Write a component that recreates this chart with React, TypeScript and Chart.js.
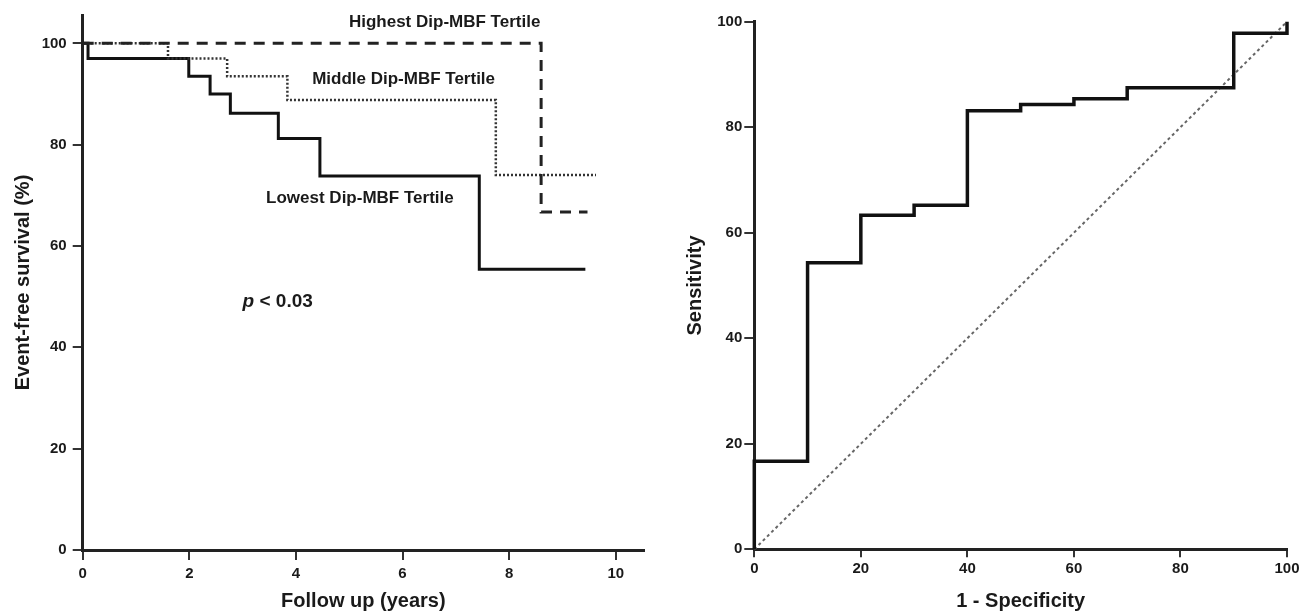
import React, { useEffect, useRef } from 'react';
import { Chart, registerables } from 'chart.js';

Chart.register(...registerables);

// ---- Kaplan-Meier data (years, % event-free) ----
const lowestYears = [0, 0.1, 1.99, 2.39, 2.77, 3.67, 4.45, 7.44, 9.43];
const lowestSurvival = [100, 97, 93.5, 90, 86.2, 81.2, 73.8, 55.4, 55.4];
const middleYears = [0, 1.6, 2.71, 3.84, 7.75, 9.63];
const middleSurvival = [100, 97, 93.5, 88.8, 74, 74];
const highestYears = [0, 8.6, 9.47];
const highestSurvival = [100, 66.7, 66.7];
const followTicks = [0, 2, 4, 6, 8, 10];
const survivalTicks = [0, 20, 40, 60, 80, 100];

// ---- ROC data (1 - specificity, sensitivity) ----
const rocFpr = [0, 10, 20, 30, 40, 50, 60, 70, 90, 100, 100];
const rocSens = [0, 16.7, 54.3, 63.3, 65.2, 83.1, 84.3, 85.4, 87.5, 97.8, 100];
const refFpr = [0, 100];
const refSens = [0, 100];
const rocTicks = [0, 20, 40, 60, 80, 100];

const FONT = '"Liberation Sans", Arial, Helvetica, sans-serif';
const INK = '#1a1a1a';

const toPoints = (xs: number[], ys: number[]) => xs.map((x, i) => ({ x, y: ys[i] }));

const notesPlugin = {
  id: 'notes',
  afterDatasetsDraw(chart: any, _args: any, opts: any) {
    const items = (opts && opts.items) || [];
    const { ctx } = chart;
    const xs = chart.scales.x;
    const ys = chart.scales.y;
    ctx.save();
    ctx.fillStyle = INK;
    ctx.textBaseline = 'middle';
    for (const it of items) {
      let px = xs.getPixelForValue(it.x);
      const py = ys.getPixelForValue(it.y);
      if (it.italic) {
        ctx.font = `italic bold ${it.size}px ${FONT}`;
        ctx.textAlign = 'left';
        ctx.fillText(it.italic, px, py);
        px += ctx.measureText(it.italic).width;
      }
      ctx.font = `bold ${it.size}px ${FONT}`;
      ctx.textAlign = it.align;
      ctx.fillText(it.text, px, py);
    }
    ctx.restore();
  },
};

function axis(opts: {
  min: number;
  max: number;
  ticks: number[];
  title: string;
  fixed: number;
  horizontal: boolean;
  tickLength: number;
  labelPad: number;
  titlePad: any;
}) {
  return {
    type: 'linear',
    min: opts.min,
    max: opts.max,
    afterBuildTicks: (scale: any) => {
      scale.ticks = opts.ticks.map((v) => ({ value: v }));
    },
    afterFit: (scale: any) => {
      if (opts.horizontal) scale.height = opts.fixed;
      else scale.width = opts.fixed;
    },
    grid: {
      display: true,
      drawOnChartArea: false,
      drawTicks: true,
      tickLength: opts.tickLength,
      color: '#333',
      lineWidth: 2,
    },
    border: { display: true, color: '#222', width: 3 },
    ticks: {
      color: INK,
      padding: opts.labelPad,
      font: { family: FONT, size: 15, weight: 'bold' },
      maxRotation: 0,
      autoSkip: false,
    },
    title: {
      display: true,
      text: opts.title,
      color: INK,
      font: { family: FONT, size: 20, weight: 'bold', lineHeight: 1 },
      padding: opts.titlePad,
    },
  };
}

function KMChart() {
  const ref = useRef<HTMLCanvasElement | null>(null);
  useEffect(() => {
    if (!ref.current) return;
    const chart = new Chart(ref.current, {
      type: 'line',
      data: {
        datasets: [
          {
            label: 'Highest Dip-MBF Tertile',
            data: toPoints(highestYears, highestSurvival),
            borderColor: '#222',
            borderWidth: 3,
            borderDash: [11, 8],
            stepped: 'before',
            pointRadius: 0,
            fill: false,
            clip: 8,
          },
          {
            label: 'Middle Dip-MBF Tertile',
            data: toPoints(middleYears, middleSurvival),
            borderColor: '#333',
            borderWidth: 2.5,
            borderDash: [2, 2],
            stepped: 'before',
            pointRadius: 0,
            fill: false,
            clip: 8,
          },
          {
            label: 'Lowest Dip-MBF Tertile',
            data: toPoints(lowestYears, lowestSurvival),
            borderColor: '#111',
            borderWidth: 3,
            stepped: 'before',
            pointRadius: 0,
            fill: false,
            clip: 8,
          },
        ],
      },
      options: {
        responsive: false,
        animation: false,
        layout: { padding: { top: 15, right: 16, left: 0, bottom: 0 } },
        scales: {
          x: axis({
            min: 0,
            max: 10.53,
            ticks: followTicks,
            title: 'Follow up (years)',
            fixed: 61,
            horizontal: true,
            tickLength: 10,
            labelPad: 5,
            titlePad: { top: 0, bottom: 0 },
          }),
          y: axis({
            min: 0,
            max: 105.6,
            ticks: survivalTicks,
            title: 'Event-free survival (%)',
            fixed: 82.7,
            horizontal: false,
            tickLength: 10,
            labelPad: 6,
            titlePad: { top: 13, bottom: 0 },
          }),
        } as any,
        plugins: {
          legend: { display: false },
          tooltip: { enabled: false },
          notes: {
            items: [
              { text: 'Highest Dip-MBF Tertile', x: 6.79, y: 104.1, size: 17, align: 'center' },
              { text: 'Middle Dip-MBF Tertile', x: 6.02, y: 93.0, size: 17, align: 'center' },
              { text: 'Lowest Dip-MBF Tertile', x: 5.2, y: 69.4, size: 17, align: 'center' },
              { italic: 'p', text: ' < 0.03', x: 3.0, y: 48.9, size: 19, align: 'left' },
            ],
          },
        } as any,
      },
      plugins: [notesPlugin as any],
    } as any);
    return () => chart.destroy();
  }, []);
  return <canvas ref={ref} width={660} height={611} style={{ position: 'absolute', left: 0, top: 0 }} />;
}

function ROCChart() {
  const ref = useRef<HTMLCanvasElement | null>(null);
  useEffect(() => {
    if (!ref.current) return;
    const chart = new Chart(ref.current, {
      type: 'line',
      data: {
        datasets: [
          {
            label: 'ROC',
            data: toPoints(rocFpr, rocSens),
            borderColor: '#111',
            borderWidth: 3.5,
            stepped: 'after',
            pointRadius: 0,
            fill: false,
            clip: 8,
          },
          {
            label: 'Reference',
            data: toPoints(refFpr, refSens),
            borderColor: '#666',
            borderWidth: 2,
            borderDash: [3, 3],
            pointRadius: 0,
            fill: false,
            clip: 8,
          },
        ],
      },
      options: {
        responsive: false,
        animation: false,
        layout: { padding: { top: 21.7, right: 24, left: 0, bottom: 0 } },
        scales: {
          x: axis({
            min: 0,
            max: 100,
            ticks: rocTicks,
            title: '1 - Specificity',
            fixed: 61.7,
            horizontal: true,
            tickLength: 8,
            labelPad: 3,
            titlePad: { top: 0, bottom: 0 },
          }),
          y: axis({
            min: 0,
            max: 100,
            ticks: rocTicks,
            title: 'Sensitivity',
            fixed: 94.3,
            horizontal: false,
            tickLength: 10,
            labelPad: 2,
            titlePad: { top: 25, bottom: 0 },
          }),
        } as any,
        plugins: {
          legend: { display: false },
          tooltip: { enabled: false },
        },
      },
    } as any);
    return () => chart.destroy();
  }, []);
  return <canvas ref={ref} width={651} height={611} style={{ position: 'absolute', left: 660, top: 0 }} />;
}

export default function App() {
  return (
    <div
      style={{
        position: 'fixed',
        left: 0,
        top: 0,
        width: 1311,
        height: 611,
        background: '#ffffff',
        overflow: 'hidden',
      }}
    >
      <KMChart />
      <ROCChart />
    </div>
  );
}
